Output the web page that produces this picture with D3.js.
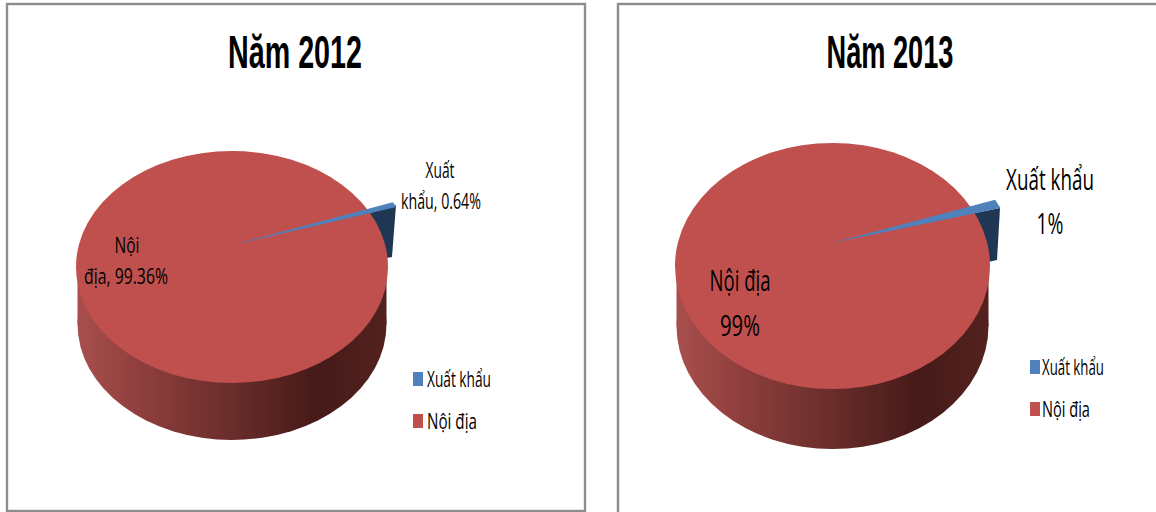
<!DOCTYPE html>
<html><head><meta charset="utf-8">
<script src="https://cdn.jsdelivr.net/npm/d3@7"></script>
<style>html,body{margin:0;padding:0;background:#fff}svg{display:block}</style>
</head><body><svg id="c" width="1156" height="512"></svg>
<script>
const categories = ["Xuất khẩu", "Nội địa"];
const values2012 = [0.64, 99.36];
const values2013 = [1, 99];
const titles = ["Năm 2012", "Năm 2013"];
const colors = ["#4f81bd", "#c0504d"];

const panels = [
 {title:titles[0], values:values2012, box:[7,4,585,511], titleX:295, titleW:134,
  cx:232, cy:267, rx:156, ry:116, depth:57, ax:232, ay:245, start:60, explode:1.19,
  wall:[[360,216],[396,205],[392,257],[386,258],[360,258]],
  labels:[["Xuất",440,178,22,29],["khẩu, 0.64%",441,209,22,80],["Nội",127,253,22,25],["địa, 99.36%",126,284,22,84]],
  legend:{sx:413,tx:427,ys:[379,421],base:[387,429],size:21,w:[64,50]}},
 {title:titles[1], values:values2013, box:[618,4,1170,530], titleX:890, titleW:127,
  cx:832.5, cy:266, rx:157.5, ry:123, depth:60, ax:832, ay:243, start:61, explode:1.18,
  wall:[[960,216],[1000,208],[997,260],[988,262],[960,262]],
  labels:[["Xuất khẩu",1050,190,30,88],["1%",1050,234,30,27],["Nội địa",740,291,30,61],["99%",740,336,30,40]],
  legend:{sx:1030,tx:1042,ys:[367,409],base:[375,417],size:21,w:[62,48]}}
];

const svg = d3.select("#c");
const defs = svg.append("defs");
const grad = defs.append("linearGradient").attr("id","side");
[[0,"#a84f4c"],[0.2,"#8f3f3d"],[0.5,"#692d2b"],[0.78,"#451a18"],[1,"#53221f"]]
  .forEach(([o,c])=>grad.append("stop").attr("offset",o).attr("stop-color",c));

function label(g,str,x,y,size,w,anchor,family,weight){
  const t=g.append("text").text(str).attr("font-family",family).attr("font-size",size)
    .attr("font-weight",weight||400).attr("fill","#000").attr("text-anchor",anchor||"middle");
  const len=t.node().getComputedTextLength();
  t.attr("transform",`translate(${x},${y}) scale(${w/len},1)`);
}

panels.forEach(p=>{
  const g=svg.append("g");
  const [x0,y0,x1,y1]=p.box;
  g.append("rect").attr("x",x0).attr("y",y0).attr("width",x1-x0).attr("height",y1-y0)
    .attr("fill","#fff").attr("stroke","#8c8c8c").attr("stroke-width",2.4);
  label(g,p.title,p.titleX,68,46,p.titleW,"middle","Liberation Sans",700);

  const toRad=Math.PI/180;
  const pie=d3.pie().sort(null).startAngle(p.start*toRad).endAngle((p.start+360)*toRad)(p.values);
  const exportSlice=pie[0];
  const rim=a=>{
    const x=p.cx+p.rx*Math.sin(a), y=p.cy-p.ry*Math.cos(a);
    return [p.ax+(x-p.ax)*p.explode,p.ay+(y-p.ay)*p.explode];
  };

  g.append("path").attr("d",d3.line()(p.wall)).attr("fill","#1f3752");

  const ell=d3.arc().innerRadius(0).outerRadius(1).startAngle(0).endAngle(2*Math.PI);
  g.append("path").attr("d",ell())
    .attr("transform",`translate(${p.cx},${p.cy+p.depth}) scale(${p.rx-1.5},${p.ry})`)
    .attr("fill","url(#side)");
  g.append("rect").attr("x",p.cx-p.rx+1.5).attr("y",p.cy).attr("width",2*p.rx-3).attr("height",p.depth)
    .attr("fill","url(#side)");

  g.append("path").attr("d",ell())
    .attr("transform",`translate(${p.cx},${p.cy}) scale(${p.rx},${p.ry})`)
    .attr("fill",colors[1]);

  g.append("path").attr("d",d3.line()([[p.ax,p.ay],rim(exportSlice.startAngle),rim(exportSlice.endAngle)]))
    .attr("fill",colors[0]);

  p.labels.forEach(l=>label(g,l[0],l[1],l[2],l[3],l[4],"middle","Open Sans"));
  categories.forEach((c,i)=>{
    const y=p.legend.ys[i];
    g.append("rect").attr("x",p.legend.sx).attr("y",y-7).attr("width",10).attr("height",14).attr("fill",colors[i]);
    label(g,c,p.legend.tx,p.legend.base[i],p.legend.size,p.legend.w[i],"start","Open Sans");
  });
});
</script></body></html>
